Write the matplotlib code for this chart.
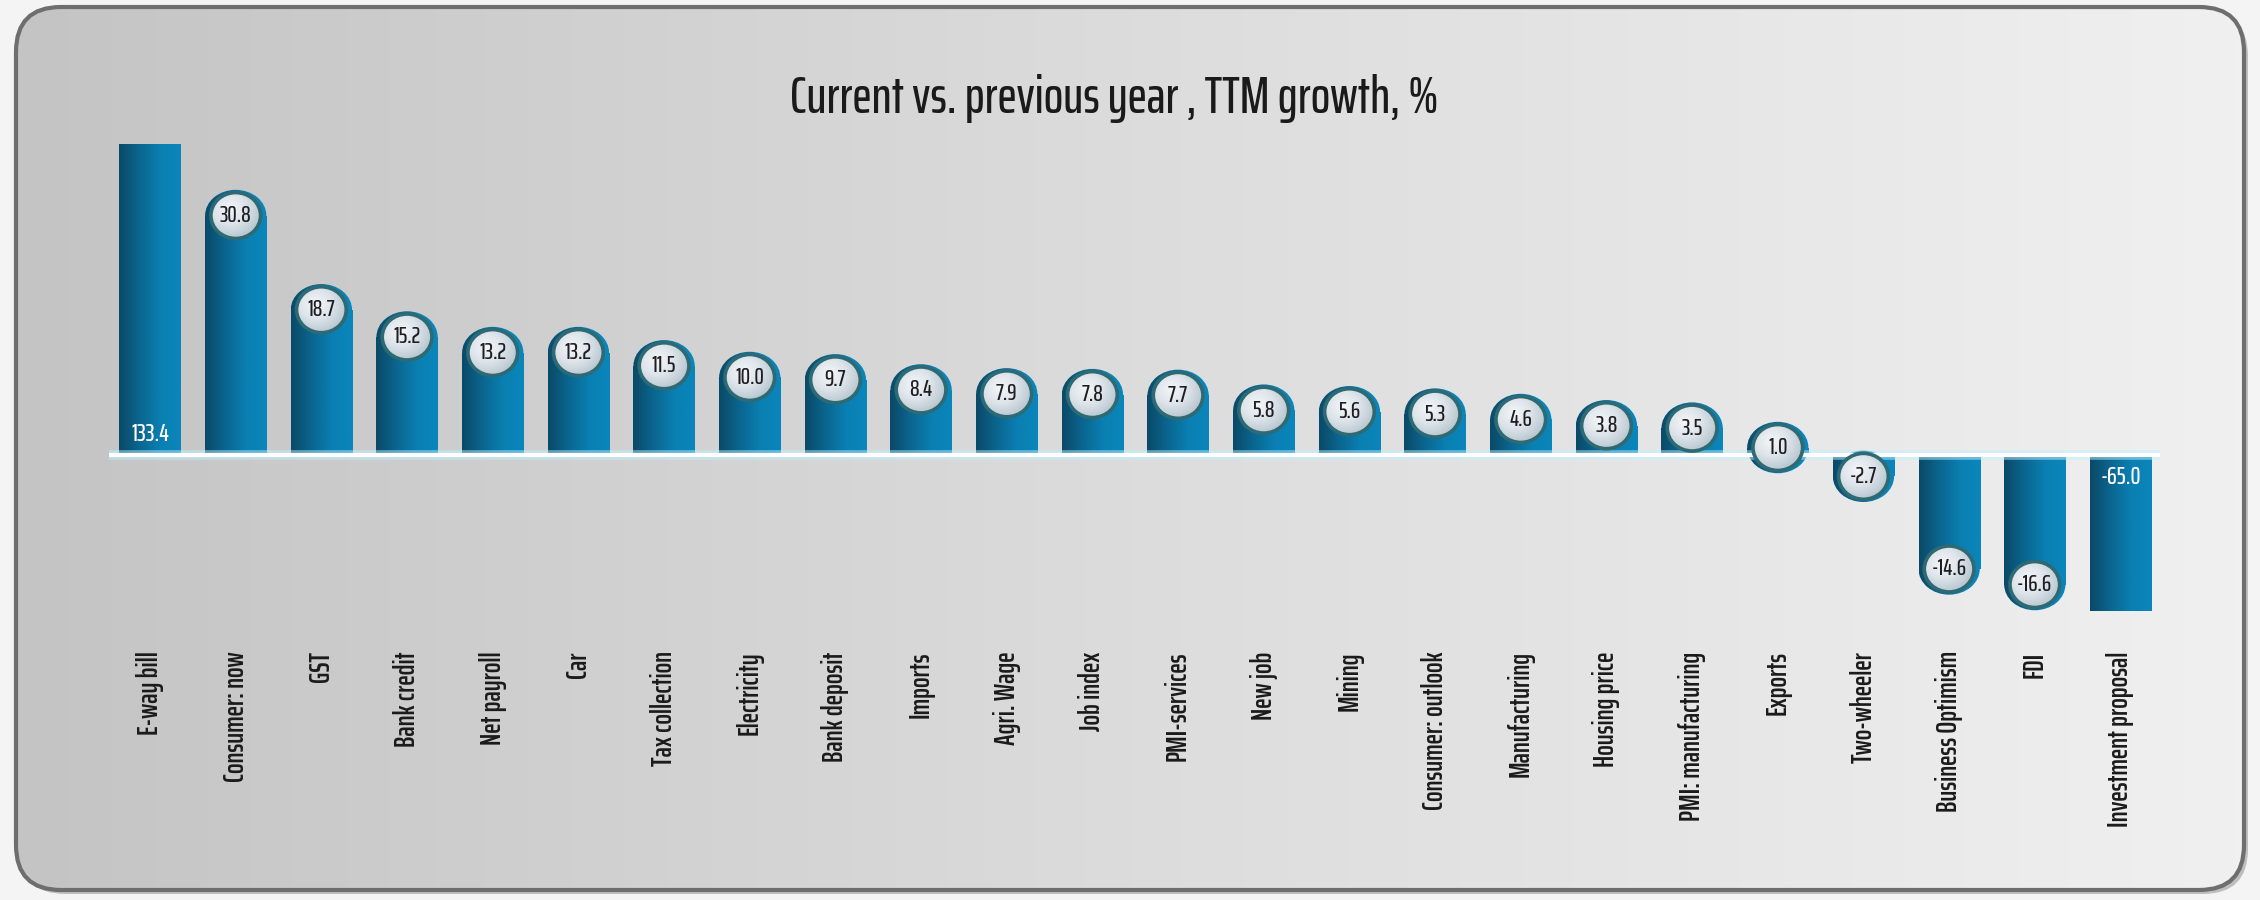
"""TTM growth bar chart"""
import numpy as np
import matplotlib
matplotlib.use("Agg")
from matplotlib import pyplot as plt
from matplotlib.patches import Rectangle, Ellipse, FancyBboxPatch
from matplotlib.colors import LinearSegmentedColormap

categories = [
    "E-way bill", "Consumer: now", "GST", "Bank credit", "Net payroll", "Car",
    "Tax collection", "Electricity", "Bank deposit", "Imports", "Agri. Wage",
    "Job index", "PMI-services", "New job", "Mining", "Consumer: outlook",
    "Manufacturing", "Housing price", "PMI: manufacturing", "Exports",
    "Two-wheeler", "Business Optimism", "FDI", "Investment proposal",
]
growth = [
    133.4, 30.8, 18.7, 15.2, 13.2, 13.2, 11.5, 10.0, 9.7, 8.4, 7.9, 7.8, 7.7,
    5.8, 5.6, 5.3, 4.6, 3.8, 3.5, 1.0, -2.7, -14.6, -16.6, -65.0,
]
title = "Current vs. previous year , TTM growth, %"

# visible range of the value axis, outliers get cut at these
y_lo, y_hi = -20, 40

FONT = ["Saira ExtraCondensed", "DejaVu Sans"]
plt.rcParams["font.family"] = FONT

bar_cmap = LinearSegmentedColormap.from_list(
    "bar", ["#0b4a68", "#0a6690", "#0a7fb2", "#0a86bb"])
bg_cmap = LinearSegmentedColormap.from_list("bg", ["#c4c4c4", "#dcdcdc", "#f0f0f0"])
lab_cmap = LinearSegmentedColormap.from_list("lab", ["#f4f6f8", "#dde4ea", "#b9c6cf"])

fig = plt.figure(figsize=(22.6, 9), dpi=100)
fig.patch.set_facecolor("#f4f4f4")

# background panel
bg = fig.add_axes([0, 0, 1, 1])
bg.set_xlim(0, 2260)
bg.set_ylim(900, 0)
bg.axis("off")
shadow = FancyBboxPatch((20, 11), 2228, 883, boxstyle="round,pad=0,rounding_size=45",
                        facecolor="#9a9a9a", edgecolor="none", alpha=0.6)
bg.add_patch(shadow)
panel = FancyBboxPatch((16, 7), 2228, 883, boxstyle="round,pad=0,rounding_size=45",
                       facecolor="none", edgecolor="#6e6e6e", linewidth=3, zorder=3)
bg.add_patch(panel)
grad = np.linspace(0, 1, 256).reshape(1, -1)
im = bg.imshow(grad, extent=[16, 2244, 890, 7], aspect="auto", cmap=bg_cmap, zorder=2)
im.set_clip_path(panel)

ax = fig.add_axes([0.0482, 0.3211, 0.9075, 0.519])
ax.set_facecolor("none")
for s in ax.spines.values():
    s.set_visible(False)

x = np.arange(len(categories))
shown = np.clip(growth, y_lo, y_hi)
w = 0.715
cap_h = 6.6
lab_w, lab_h = 0.58, 5.9
bar_grad = np.linspace(0, 1, 64).reshape(1, -1)
yy, xx = np.mgrid[-1:1:64j, -1:1:64j]
radial = np.clip(np.hypot(xx + 0.25, yy + 0.25) / 1.3, 0, 1)

# zero line with a soft glow
ax.axhline(0, color="#bfefff", lw=7, alpha=0.5, zorder=4)
ax.axhline(0, color="white", lw=3, zorder=4)

for xi, v, sv in zip(x, growth, shown):
    clipped = v != sv
    rect = Rectangle((xi - w / 2, 0), w, sv, facecolor="none", edgecolor="none")
    ax.add_patch(rect)
    lo, hi = min(0, sv) - cap_h, max(0, sv) + cap_h
    img = ax.imshow(bar_grad, extent=[xi - w / 2, xi + w / 2, lo, hi],
                    aspect="auto", cmap=bar_cmap, zorder=2)
    img.set_clip_path(rect)
    if clipped:
        if sv > 0:
            ax.text(xi, 1.2, f"{v:.1f}", ha="center", va="bottom", color="white",
                    fontsize=18, fontweight="medium", zorder=6)
        else:
            ax.text(xi, -1.2, f"{v:.1f}", ha="center", va="top", color="white",
                    fontsize=18, fontweight="medium", zorder=6)
        continue
    cap = Ellipse((xi, sv), w, cap_h, facecolor="none", edgecolor="none")
    ax.add_patch(cap)
    img2 = ax.imshow(bar_grad, extent=[xi - w / 2, xi + w / 2, lo, hi],
                     aspect="auto", cmap=bar_cmap, zorder=2)
    img2.set_clip_path(cap)
    lab = Ellipse((xi, sv), lab_w, lab_h, facecolor="none", edgecolor="#2e6a73",
                  linewidth=2.6, zorder=5.5)
    ax.add_patch(lab)
    img3 = ax.imshow(radial, extent=[xi - lab_w / 2, xi + lab_w / 2,
                                     sv - lab_h / 2, sv + lab_h / 2],
                     aspect="auto", cmap=lab_cmap, zorder=5)
    img3.set_clip_path(lab)
    ax.text(xi, sv, f"{v:.1f}", ha="center", va="center", color="#1e1e24",
            fontsize=17, fontweight="medium", zorder=6)

ax.set_xlim(-0.48, len(categories) - 1 + 0.46)
ax.set_ylim(y_lo, y_hi)
ax.set_yticks([])
ax.set_xticks(x)
ax.set_xticklabels(categories, rotation=90, fontsize=20, fontweight="semibold",
                   color="#1a1a1a", va="top")
ax.tick_params(axis="x", length=0, pad=29)

fig.text(0.493, 0.891, title, ha="center", va="center", fontsize=37,
         fontweight="medium", color="#1a1a1a")

fig.savefig("out.png", dpi=100, facecolor=fig.get_facecolor())
